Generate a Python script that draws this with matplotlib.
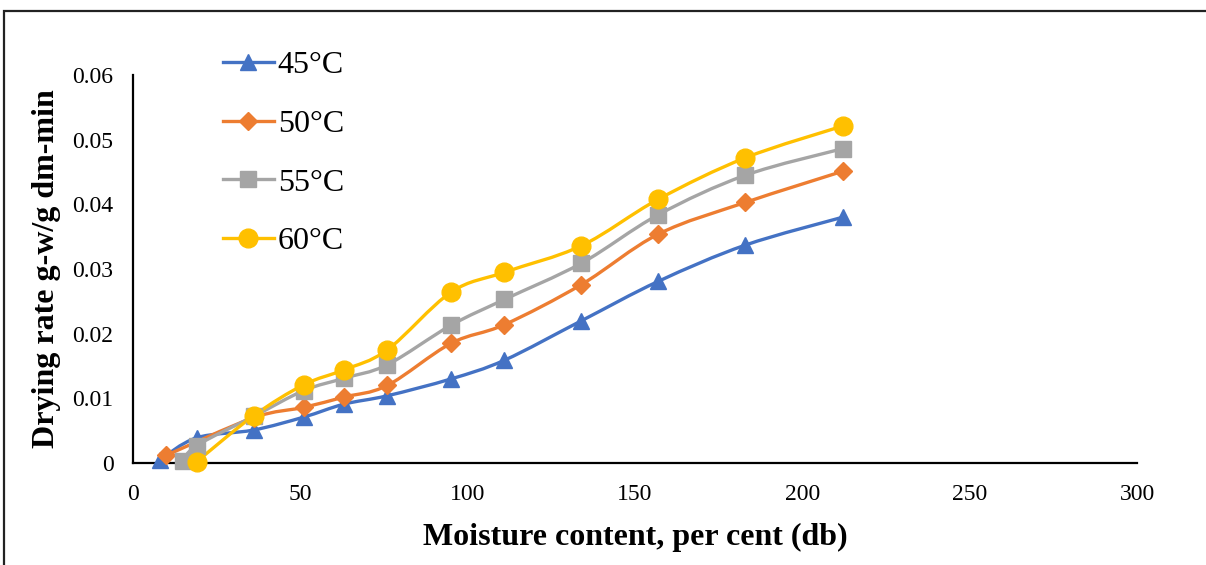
import matplotlib
matplotlib.use('Agg')
import matplotlib.pyplot as plt
import numpy as np
from matplotlib.path import Path
from matplotlib.patches import PathPatch, Rectangle
from matplotlib.lines import Line2D

# ── Data ───────────────────────────────────────────────────────────────────
labels = ['45°C', '50°C', '55°C', '60°C']

x_45 = [8, 19, 36, 51, 63, 76, 95, 111, 134, 157, 183, 212]
y_45 = [0.0005, 0.0039, 0.0051, 0.0071, 0.0091, 0.0104, 0.0130, 0.0159,
        0.0220, 0.0281, 0.0337, 0.0380]

x_50 = [10, 36, 51, 63, 76, 95, 111, 134, 157, 183, 212]
y_50 = [0.0012, 0.0070, 0.0086, 0.0102, 0.0120, 0.0185, 0.0214, 0.0276,
        0.0354, 0.0403, 0.0451]

x_55 = [15, 19, 36, 51, 63, 76, 95, 111, 134, 157, 183, 212]
y_55 = [0.0003, 0.0027, 0.0072, 0.0112, 0.0131, 0.0152, 0.0213, 0.0253,
        0.0309, 0.0384, 0.0445, 0.0486]

x_60 = [19, 36, 51, 63, 76, 95, 111, 134, 157, 183, 212]
y_60 = [0.0002, 0.0073, 0.0121, 0.0144, 0.0175, 0.0264, 0.0295, 0.0336,
        0.0408, 0.0472, 0.0521]

x_ticks = [0, 50, 100, 150, 200, 250, 300]
y_ticks = [0, 0.01, 0.02, 0.03, 0.04, 0.05, 0.06]
y_ticklabels = ['0', '0.01', '0.02', '0.03', '0.04', '0.05', '0.06']

colors = ['#4472C4', '#ED7D31', '#A5A5A5', '#FFC000']
markers = ['^', 'D', 's', 'o']
msizes = [11.5, 9, 11.5, 13.5]


def smooth_path(xs, ys):
    """Excel-style smoothed line as cubic Bezier segments."""
    p = np.column_stack([xs, ys]).astype(float)
    n = len(p)
    verts = [p[0]]
    codes = [Path.MOVETO]
    for i in range(n - 1):
        p0 = p[i - 1] if i > 0 else p[i]
        p1, p2 = p[i], p[i + 1]
        p3 = p[i + 2] if i + 2 < n else p[i + 1]
        c1 = p1 + (p2 - p0) / 6.0
        c2 = p2 - (p3 - p1) / 6.0
        verts += [c1, c2, p2]
        codes += [Path.CURVE4] * 3
    return Path(verts, codes)


plt.rcParams['font.family'] = ['Liberation Serif', 'DejaVu Serif']

fig = plt.figure(figsize=(12.06, 5.65), dpi=100)
ax = fig.add_axes([0.1103, 0.1805, 0.8325, 0.6868])

series = [(x_45, y_45), (x_50, y_50), (x_55, y_55), (x_60, y_60)]
handles = []
for (xs, ys), c, m, ms, lab in zip(series, colors, markers, msizes, labels):
    ax.add_patch(PathPatch(smooth_path(xs, ys), facecolor='none',
                           edgecolor=c, lw=2.4, zorder=2))
    ax.plot(xs, ys, ls='none', marker=m, ms=ms, color=c, mec=c,
            zorder=3, clip_on=False)
    handles.append(Line2D([], [], color=c, lw=2.4, marker=m, ms=ms,
                          mec=c, label=lab))

ax.set_xlim(0, 300)
ax.set_ylim(0, 0.06)
ax.set_xticks(x_ticks)
ax.set_yticks(y_ticks)
ax.set_yticklabels(y_ticklabels)
ax.tick_params(axis='both', length=0, labelsize=17)
ax.tick_params(axis='y', pad=14)
ax.tick_params(axis='x', pad=15)

for side in ['top', 'right']:
    ax.spines[side].set_visible(False)
for side in ['left', 'bottom']:
    ax.spines[side].set_linewidth(1.6)
    ax.spines[side].set_color('black')

ax.set_xlabel('Moisture content, per cent (db)', fontsize=23,
              fontweight='bold', labelpad=13)
ax.set_ylabel('Drying rate g-w/g dm-min', fontsize=23,
              fontweight='bold', labelpad=8)

fig.legend(handles=handles, loc='upper left',
           bbox_to_anchor=(210 / 1206, 1 - 38 / 565), frameon=False,
           fontsize=23, handlelength=1.6, handletextpad=0.12,
           labelspacing=0.92, borderaxespad=0)

# frame around the figure (left and top edges visible in the reference)
fig.add_artist(Rectangle((4 / 1206, -0.05), 1.1, 1 - 11 / 565 + 0.05,
                         transform=fig.transFigure, fill=False,
                         edgecolor='#222222', lw=1.6))

fig.savefig('out.png', dpi=100)
